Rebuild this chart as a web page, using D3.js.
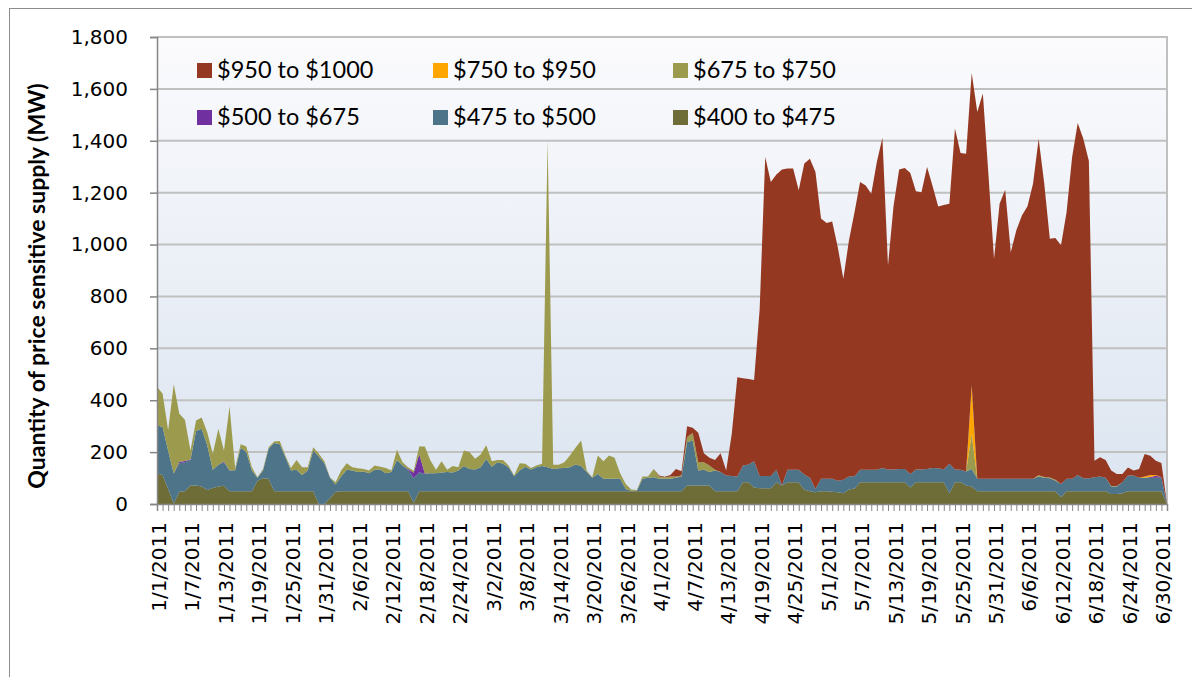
<!DOCTYPE html>
<html>
<head>
<meta charset="utf-8">
<script src="https://cdn.jsdelivr.net/npm/d3@7"></script>
<style>
  body { margin: 0; background: #fff; }
  svg text { font-family: "DejaVu Sans", sans-serif; fill: #000; }
</style>
</head>
<body>
<svg id="chart" width="1192" height="677"></svg>
<script>
// Daily values, 1/1/2011 .. 7/1/2011 (182 days), MW
const startDate = new Date(2011, 0, 1)
const dayCount = 182

const supply400 = [
  118,112,58,2,47,49,71,71,67,54,
  62,67,70,49,49,49,49,49,90,99,
  97,49,49,49,49,49,49,49,49,0,
  0,22,47,49,49,49,49,49,49,49,
  49,49,49,49,49,49,5,49,49,49,
  49,49,49,49,49,49,49,49,49,49,
  49,49,49,49,49,49,49,49,49,49,
  49,49,49,49,49,49,49,49,49,49,
  49,49,49,49,49,49,49,49,49,49,
  49,49,49,49,49,71,71,71,71,71,
  49,49,49,49,49,84,84,64,61,61,
  61,84,71,84,84,84,55,49,45,49,
  49,47,45,41,56,60,84,84,84,84,
  84,84,84,84,84,64,84,84,84,84,
  84,84,41,84,84,71,67,49,49,49,
  49,49,49,49,49,49,49,49,49,49,
  49,49,26,49,49,49,49,49,49,49,
  49,39,39,41,49,49,49,49,49,49,
  49,0
]

const supply475 = [
  186,185,147,116,110,112,99,210,223,172,
  70,84,91,80,81,168,151,80,11,30,
  116,186,181,132,80,83,63,80,157,183,
  157,79,28,57,83,80,74,76,70,83,
  84,70,74,121,99,83,95,73,67,70,
  70,72,74,72,80,97,86,84,93,124,
  95,112,106,93,58,80,95,84,93,97,
  93,86,89,90,93,103,97,74,52,67,
  48,48,48,48,9,2,2,48,52,54,
  48,48,48,52,57,168,174,58,61,52,
  80,74,61,59,57,64,68,101,47,47,
  47,48,0,48,48,48,59,52,13,48,
  48,50,45,52,50,47,48,48,48,48,
  55,49,49,51,51,52,49,49,51,55,
  54,50,114,49,48,54,68,48,48,48,
  48,48,48,48,48,48,48,48,57,52,
  50,41,51,48,48,63,50,50,54,57,
  52,28,28,43,61,61,52,52,52,52,
  52,0
]

const supply500 = [
  0,0,0,0,5,5,2,0,0,0,
  0,0,3,0,0,0,0,0,0,0,
  0,0,0,0,0,0,0,0,0,0,
  0,0,0,0,0,0,0,0,0,0,
  0,0,0,0,0,3,20,70,2,0,
  0,0,0,0,0,0,0,0,0,0,
  0,0,0,0,0,0,0,0,0,0,
  0,0,0,0,0,0,0,0,0,0,
  0,0,0,0,0,0,0,0,0,0,
  0,0,0,0,0,0,0,0,0,0,
  0,0,0,0,0,0,0,0,0,0,
  0,0,0,0,0,0,0,0,0,0,
  0,0,0,0,0,0,0,0,0,0,
  0,0,0,0,0,0,0,0,0,0,
  0,0,0,0,0,0,0,0,0,0,
  0,0,0,0,0,0,0,0,0,0,
  0,0,0,0,0,0,0,0,0,0,
  0,0,0,0,0,0,0,0,3,8,
  2,0
]

const supply675 = [
  148,128,79,344,186,159,34,41,43,51,
  62,139,42,248,8,13,22,13,2,6,
  6,6,13,6,10,38,30,13,13,11,
  8,2,9,23,25,13,15,10,10,16,
  11,20,6,39,13,7,8,30,104,49,
  13,44,9,25,13,60,65,41,49,53,
  21,9,15,6,3,28,11,6,6,9,
  1258,16,13,22,45,65,99,6,2,71,
  68,90,81,22,19,5,3,9,5,32,
  9,6,9,5,4,19,29,32,29,25,
  3,0,0,0,0,0,0,0,0,0,
  0,0,0,0,0,0,0,0,0,0,
  0,0,0,0,0,0,0,0,0,0,
  0,0,0,0,0,0,0,0,0,0,
  0,0,0,0,0,0,136,0,0,0,
  0,0,0,0,0,0,0,0,3,3,
  3,3,0,0,0,0,0,0,0,0,
  0,2,2,0,0,0,0,0,0,0,
  0,0
]

const supply750 = [
  0,0,0,0,0,0,0,0,0,0,
  0,0,0,0,0,0,0,0,0,0,
  0,0,0,0,0,0,0,0,0,0,
  0,0,0,0,0,0,0,0,0,0,
  0,0,0,0,0,0,0,0,0,0,
  0,0,0,0,0,0,0,0,0,0,
  0,0,0,0,0,0,0,0,0,0,
  0,0,0,0,0,0,0,0,0,0,
  0,0,0,0,0,0,0,0,0,0,
  0,0,0,0,0,0,0,0,0,0,
  0,0,0,0,0,0,0,0,0,0,
  0,0,0,0,0,0,0,0,0,0,
  0,0,0,0,0,0,0,0,0,0,
  0,0,0,0,0,0,0,0,0,0,
  0,0,0,0,0,0,187,0,0,0,
  0,0,0,0,0,0,0,0,2,0,
  0,0,0,0,0,0,0,0,0,0,
  0,0,0,0,0,0,0,5,8,3,
  0,0
]

const supply950 = [
  0,0,0,0,0,0,0,0,0,0,
  0,0,0,0,0,0,0,0,0,0,
  0,0,0,0,0,0,0,0,0,0,
  0,0,0,0,0,0,0,0,0,0,
  0,0,0,0,0,0,0,0,0,0,
  0,0,0,0,0,0,0,0,0,0,
  0,0,0,0,0,0,0,0,0,0,
  0,0,0,0,0,0,0,0,0,0,
  0,0,0,0,0,0,0,0,0,0,
  4,2,6,29,16,42,20,114,35,30,
  38,73,19,162,383,337,330,313,642,1229,
  1133,1138,1218,1161,1161,1077,1198,1230,1222,1003,
  986,992,900,775,910,1018,1109,1096,1064,1186,
  1273,786,1017,1154,1160,1160,1072,1069,1164,1086,
  1009,1018,1002,1314,1221,1225,1203,1414,1485,1173,
  848,1060,1114,873,958,1015,1051,1138,1297,1131,
  920,932,920,1028,1240,1357,1309,1223,64,74,
  69,60,47,32,31,19,34,87,74,55,
  55,0
]

const tickLabels = [
  "1/1/2011", "1/7/2011", "1/13/2011", "1/19/2011", "1/25/2011", "1/31/2011",
  "2/6/2011", "2/12/2011", "2/18/2011", "2/24/2011", "3/2/2011", "3/8/2011",
  "3/14/2011", "3/20/2011", "3/26/2011", "4/1/2011", "4/7/2011", "4/13/2011",
  "4/19/2011", "4/25/2011", "5/1/2011", "5/7/2011", "5/13/2011", "5/19/2011",
  "5/25/2011", "5/31/2011", "6/6/2011", "6/12/2011", "6/18/2011", "6/24/2011",
  "6/30/2011"
]
const yTicks = [0, 200, 400, 600, 800, 1000, 1200, 1400, 1600, 1800]

// bottom to top
const series = [
  { key: "$400 to $475", values: supply400, color: "#6e6d38" },
  { key: "$475 to $500", values: supply475, color: "#4e7489" },
  { key: "$500 to $675", values: supply500, color: "#7030a0" },
  { key: "$675 to $750", values: supply675, color: "#9c9b4d" },
  { key: "$750 to $950", values: supply750, color: "#ffa500" },
  { key: "$950 to $1000", values: supply950, color: "#953822" }
]
const legendOrder = ["$950 to $1000", "$750 to $950", "$675 to $750",
                     "$500 to $675", "$475 to $500", "$400 to $475"]

const plot = { left: 157, right: 1167, top: 37, bottom: 504 }

const svg = d3.select("#chart")

const dates = d3.range(dayCount).map(i => d3.timeDay.offset(startDate, i))
const rows = dates.map((date, i) => {
  const r = { date }
  series.forEach(s => { r[s.key] = s.values[i] })
  return r
})

const x = d3.scaleTime()
  .domain([dates[0], dates[dates.length - 1]])
  .range([plot.left, plot.right])

const y = d3.scaleLinear()
  .domain([0, 1800])
  .range([plot.bottom, plot.top])

// outer frame
svg.append("rect")
  .attr("x", 9.5).attr("y", 8.5)
  .attr("width", 1240).attr("height", 720)
  .attr("fill", "none")
  .attr("stroke", "#8c8c8c")

// plot background
const grad = svg.append("defs").append("linearGradient")
  .attr("id", "bg").attr("x1", 0).attr("y1", 0).attr("x2", 0).attr("y2", 1)
grad.append("stop").attr("offset", "0%").attr("stop-color", "#fbfbfd")
grad.append("stop").attr("offset", "100%").attr("stop-color", "#dbe4f0")

svg.append("rect")
  .attr("x", plot.left).attr("y", plot.top)
  .attr("width", plot.right - plot.left)
  .attr("height", plot.bottom - plot.top)
  .attr("fill", "url(#bg)")

// gridlines
svg.append("g")
  .selectAll("line")
  .data(yTicks.filter(d => d > 0))
  .join("line")
  .attr("x1", plot.left).attr("x2", plot.right)
  .attr("y1", d => y(d)).attr("y2", d => y(d))
  .attr("stroke", "#c0c0c0")
  .attr("stroke-width", 2)

svg.append("line")
  .attr("x1", plot.right).attr("x2", plot.right)
  .attr("y1", plot.top - 1).attr("y2", plot.bottom)
  .attr("stroke", "#c0c0c0")
  .attr("stroke-width", 2)

// stacked areas
const stacked = d3.stack().keys(series.map(s => s.key))(rows)

const area = d3.area()
  .x(d => x(d.data.date))
  .y0(d => y(d[0]))
  .y1(d => y(d[1]))

svg.append("g")
  .selectAll("path")
  .data(stacked)
  .join("path")
  .attr("fill", (d, i) => series[i].color)
  .attr("d", area)

// y axis
const yAxis = svg.append("g")
  .attr("transform", `translate(${plot.left},0)`)
  .call(d3.axisLeft(y).tickValues(yTicks).tickFormat(d3.format(",")).tickSize(7).tickPadding(22))
yAxis.select(".domain").attr("stroke", "#868686").attr("stroke-width", 1.5)
yAxis.selectAll(".tick line").attr("stroke", "#868686").attr("stroke-width", 1.5)
yAxis.selectAll("text")
  .attr("font-size", 20)
  .attr("font-family", "DejaVu Sans, sans-serif")
  .attr("fill", "#000")

// x axis: daily minor ticks
const xAxis = svg.append("g")
  .attr("transform", `translate(0,${plot.bottom})`)
  .call(d3.axisBottom(x).tickValues(dates).tickFormat("").tickSize(7))
xAxis.select(".domain").attr("stroke", "#868686").attr("stroke-width", 1.5)
xAxis.selectAll(".tick line").attr("stroke", "#868686").attr("stroke-width", 1)

const parseLabel = d3.timeParse("%m/%d/%Y")
svg.append("g")
  .selectAll("text")
  .data(tickLabels)
  .join("text")
  .attr("transform", d => `translate(${x(parseLabel(d))},522) rotate(-90)`)
  .attr("text-anchor", "end")
  .attr("dy", "0.45em")
  .attr("font-size", 20)
  .text(d => d)

// y axis title
svg.append("text")
  .attr("transform", "translate(45,286) rotate(-90)")
  .attr("text-anchor", "middle")
  .style("font-family", "Lato, sans-serif")
  .style("font-weight", "bold")
  .attr("font-size", 23)
  .text("Quantity of price sensitive supply (MW)")

// legend
const legendCols = [197, 433, 673]
const legendRows = [63, 110]
const legend = svg.append("g")
  .selectAll("g")
  .data(legendOrder)
  .join("g")
  .attr("transform", (d, i) => `translate(${legendCols[i % 3]},${legendRows[Math.floor(i / 3)]})`)

legend.append("rect")
  .attr("width", 15).attr("height", 15)
  .attr("fill", d => series.find(s => s.key === d).color)

legend.append("text")
  .attr("x", 20)
  .attr("y", 15)
  .style("font-family", "Lato, sans-serif")
  .attr("font-size", 23.5)
  .text(d => d)
</script>
</body>
</html>
